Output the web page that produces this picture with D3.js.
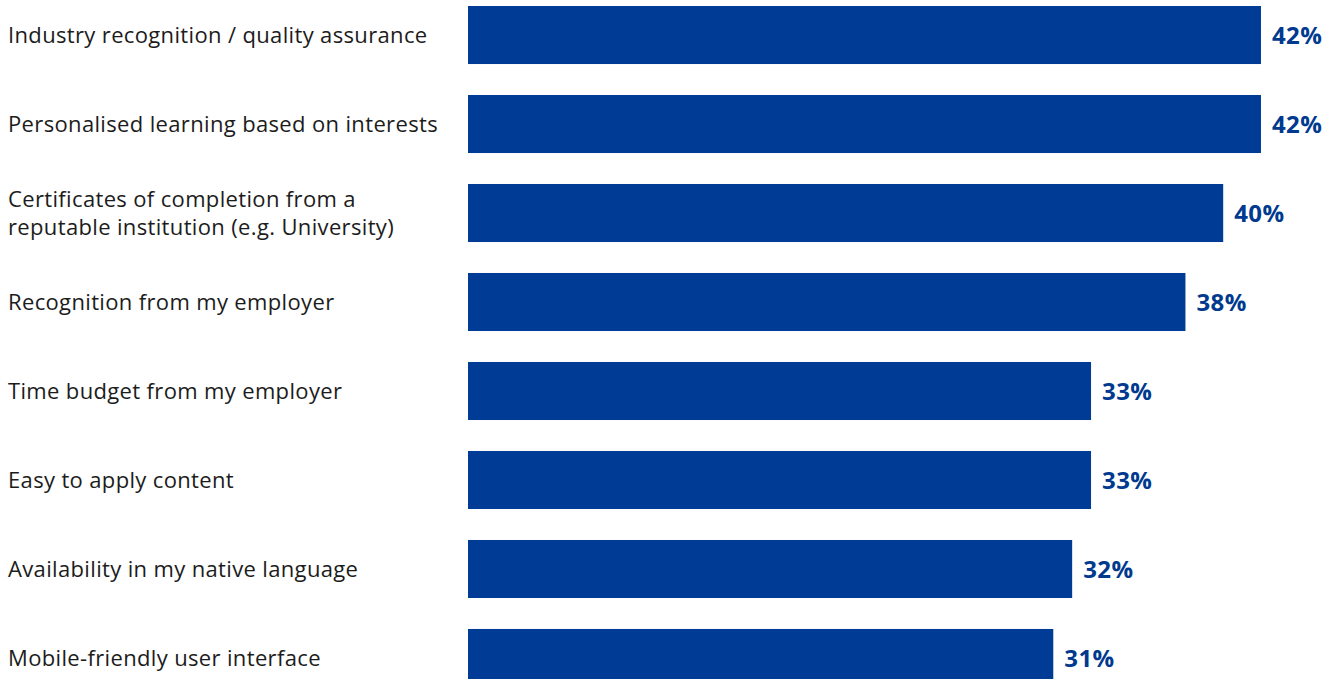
<!DOCTYPE html>
<html>
<head>
<meta charset="utf-8">
<script src="https://cdn.jsdelivr.net/npm/d3@7"></script>
<style>
  html, body { margin: 0; padding: 0; background: #ffffff; }
  svg { display: block; }
  text { font-variant-ligatures: none; }
</style>
</head>
<body>
<svg id="chart" width="1340" height="679"></svg>
<script>
// Survey answers: what makes online learning worthwhile
const categories = [
  "Industry recognition / quality assurance",
  "Personalised learning based on interests",
  "Certificates of completion from a|reputable institution (e.g. University)",
  "Recognition from my employer",
  "Time budget from my employer",
  "Easy to apply content",
  "Availability in my native language",
  "Mobile-friendly user interface"
];
const values = [42, 42, 40, 38, 33, 33, 32, 31];
const valueLabels = ["42%", "42%", "40%", "38%", "33%", "33%", "32%", "31%"];

const barColor = "#003b95";
const labelColor = "#003a8f";
const textColor = "#1c1c1c";

const svg = d3.select("#chart");

const rows = categories.map((c, i) => ({ key: c, lines: c.split("|"), value: values[i], label: valueLabels[i] }));

const y = d3.scaleBand()
  .domain(rows.map(d => d.key))
  .range([6, 687])
  .paddingInner(0.348)
  .paddingOuter(0);

const x = d3.scaleLinear()
  .domain([0, 50])
  .range([468, 1412]);

// bars
svg.append("g")
  .selectAll("rect")
  .data(rows)
  .join("rect")
  .attr("x", x(0))
  .attr("y", d => y(d.key))
  .attr("width", d => x(d.value) - x(0))
  .attr("height", y.bandwidth())
  .attr("fill", barColor);

// value labels at bar ends
svg.append("g")
  .selectAll("text")
  .data(rows)
  .join("text")
  .attr("x", d => x(d.value) + 11)
  .attr("y", d => y(d.key) + y.bandwidth() / 2)
  .attr("dy", "0.36em")
  .attr("font-family", "'Open Sans', Lato, sans-serif")
  .attr("font-weight", 700)
  .attr("font-size", 24)
  .attr("letter-spacing", 0.4)
  .attr("fill", labelColor)
  .text(d => d.label);

// category labels, one or two lines
const lineGap = 28;
const cat = svg.append("g")
  .selectAll("text")
  .data(rows)
  .join("text")
  .attr("x", 8)
  .attr("y", d => y(d.key) + y.bandwidth() / 2 - (d.lines.length - 1) * lineGap / 2)
  .attr("font-family", "'Open Sans', Lato, sans-serif")
  .attr("font-size", 22)
  .attr("letter-spacing", 0.35)
  .attr("fill", textColor);

cat.selectAll("tspan")
  .data(d => d.lines)
  .join("tspan")
  .attr("x", 8)
  .attr("dy", (d, i) => i === 0 ? "0.36em" : lineGap)
  .text(d => d);
</script>
</body>
</html>
